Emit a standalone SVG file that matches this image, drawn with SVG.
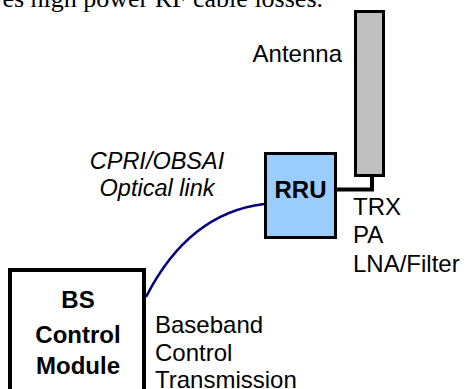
<svg xmlns="http://www.w3.org/2000/svg" width="465" height="389" viewBox="0 0 465 389">
<style>
text{font-family:"Liberation Sans",Arial,sans-serif;font-size:24px;fill:#000}
.b{font-weight:bold}
.i{font-style:italic;font-size:23.5px}
.serif{font-family:"Liberation Serif","Times New Roman",serif;font-size:26px}
</style>
<rect width="465" height="389" fill="#fff"/>
<text class="serif" x="323" y="7" text-anchor="end">es high power RF cable losses.</text>
<g id="connectors">
<path d="M146 297 C175 240 215 210 264 204" fill="none" stroke="#000080" stroke-width="2.5"/>
<path d="M337 189.5 H372 V176" fill="none" stroke="#000" stroke-width="4"/>
</g>
<g id="antenna">
<rect x="355.5" y="11.5" width="28" height="164" fill="#C0C0C0" stroke="#000" stroke-width="3"/>
<text x="342" y="62" text-anchor="end">Antenna</text>
</g>
<g id="rru">
<rect x="265.5" y="153.5" width="70" height="84" fill="#99CCFF" stroke="#000" stroke-width="3"/>
<text class="b" x="300.5" y="198" text-anchor="middle">RRU</text>
<text x="353" y="215">TRX</text>
<text x="353" y="243">PA</text>
<text x="353" y="272">LNA/Filter</text>
</g>
<g id="link-label">
<text class="i" x="157" y="169" text-anchor="middle">CPRI/OBSAI</text>
<text class="i" x="157" y="196" text-anchor="middle">Optical link</text>
</g>
<g id="bs">
<rect x="10" y="270" width="134" height="140" fill="#fff" stroke="#000" stroke-width="4"/>
<text class="b" x="78" y="308" text-anchor="middle">BS</text>
<text class="b" x="78" y="343" text-anchor="middle">Control</text>
<text class="b" x="78" y="374" text-anchor="middle">Module</text>
<text x="155" y="333">Baseband</text>
<text x="155" y="361">Control</text>
<text x="155" y="388">Transmission</text>
</g>
</svg>
